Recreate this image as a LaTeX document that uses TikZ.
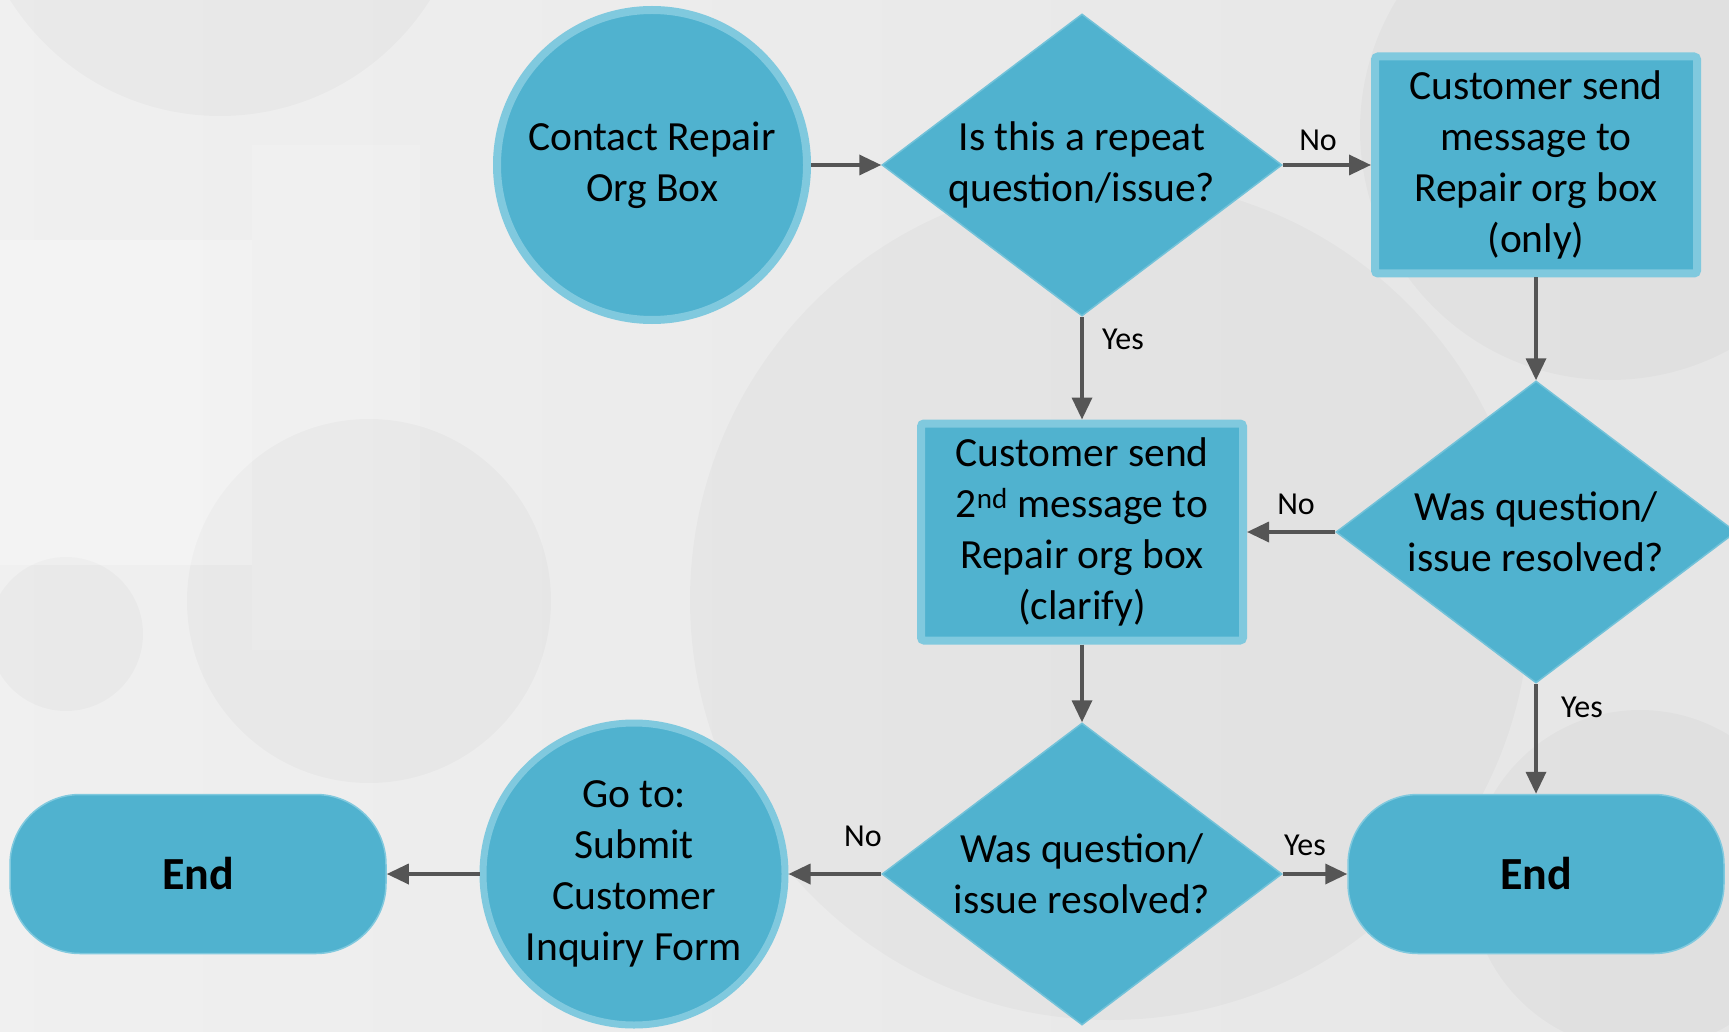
\documentclass[tikz,border=0pt]{standalone}
\usepackage{fontspec}
\setmainfont{Carlito}
\usetikzlibrary{shapes.geometric,arrows.meta}
\definecolor{fillc}{HTML}{50B2CF}
\definecolor{rimc}{HTML}{80C9DE}
\definecolor{linec}{HTML}{555555}
\begin{document}
\begin{tikzpicture}[x=1pt,y=-1pt,
  base/.style={fill=fillc, font=\fontsize{41.5}{51}\selectfont, align=center, inner sep=0pt, text=black},
  circ/.style={base, circle, draw=rimc, line width=8pt},
  procbox/.style={base, rectangle, rounded corners=3pt, draw=rimc, line width=8pt, minimum width=322pt, minimum height=217pt},
  decision/.style={base, diamond, draw=rimc!70!fillc, line width=1.5pt, aspect=1.33, minimum width=400pt, minimum height=302pt},
  term/.style={base, rectangle, rounded corners=70pt, draw=rimc, line width=1.5pt, minimum width=376pt, minimum height=159pt, font=\fontsize{46}{56}\selectfont\bfseries},
  flow/.style={draw=linec, line width=3.5pt, -{Triangle[length=22pt,width=20pt]}},
  lbl/.style={font=\fontsize{32}{38}\selectfont, inner sep=0pt, text=black}]
\useasboundingbox (0,0) rectangle (1729,1032);
% background
\begin{scope}
\clip (0,0) rectangle (1729,1032);
\fill[left color=white!94!black, middle color=white!86!black, right color=white!90!black] (0,0) rectangle (1729,1032);
\begin{scope}[opacity=0.022]
  \fill[black] (220,-132) circle (248);
  \fill[black] (369,601) circle (182);
  \fill[black] (66,634) circle (77);
  \fill[black] (1610,130) circle (250);
  \fill[black] (1640,880) circle (170);
  \fill[black] (1110,600) circle (420);
\end{scope}
\fill[white, opacity=0.25] (0,240) rectangle (252,565);
\fill[white, opacity=0.12] (252,145) rectangle (420,650);
\end{scope}
% nodes
\node[circ, minimum size=310pt] (contact) at (652,165) {Contact Repair\\Org Box};
\node[decision] (repeat) at (1082,165) {Is this a repeat\\question/issue?};
\node[procbox] (send1) at (1536,165) {Customer send\\message to\\Repair org box\\(only)};
\node[decision] (resolved1) at (1536,532) {Was question/\\issue resolved?};
\node[procbox] (send2) at (1082,532) {Customer send\\2\textsuperscript{nd} message to\\Repair org box\\(clarify)};
\node[decision] (resolved2) at (1082,874) {Was question/\\issue resolved?};
\node[term] (endR) at (1536,874) {End};
\node[circ, line width=7pt, minimum size=302pt] (goto) at (634,874) {Go to:\\Submit\\Customer\\Inquiry Form};
\node[term] (endL) at (198,874) {End};
% connectors
\draw[flow] (contact.east) -- (repeat.west);
\draw[flow] (repeat.east) -- (send1.west);
\draw[flow] (repeat.south) -- (send2.north);
\draw[flow] (send1.south) -- (resolved1.north);
\draw[flow] (resolved1.west) -- (send2.east);
\draw[flow] (resolved1.south) -- (endR.north);
\draw[flow] (send2.south) -- (resolved2.north);
\draw[flow] (resolved2.east) -- (endR.west);
\draw[flow] (resolved2.west) -- (goto.east);
\draw[flow] (goto.west) -- (endL.east);
% labels
\node[lbl] (lno1) at (1318,140) {No};
\node[lbl] (lyes1) at (1123,339) {Yes};
\node[lbl] (lno2) at (1296,504) {No};
\node[lbl] (lyes2) at (1582,707) {Yes};
\node[lbl] (lno3) at (863,836) {No};
\node[lbl] (lyes3) at (1305,845) {Yes};
\end{tikzpicture}
\end{document}
